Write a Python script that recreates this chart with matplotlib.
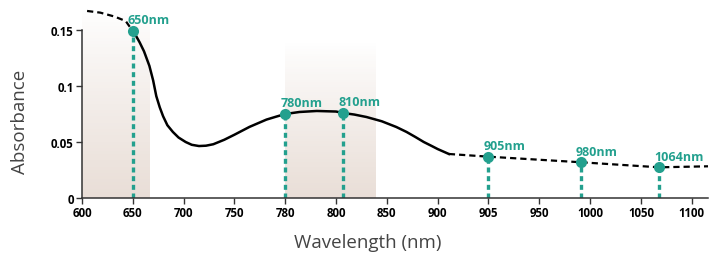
import numpy as np
import matplotlib
matplotlib.use('Agg')
import matplotlib.pyplot as plt

#----------------------------
#          DATA
#----------------------------
tick_vals = [600, 650, 700, 750, 780, 800, 850, 900, 905, 950, 1000, 1050, 1100]
tick_labels = ['600', '650', '700', '750', '780', '800', '850', '900', '905',
               '950', '1000', '1050', '1100']

# dashed head of the curve (below 650 nm)
head_x = [605, 618, 632, 643, 650]
head_y = [0.167, 0.1655, 0.162, 0.158, 0.149]

# solid part of the absorbance curve
body_x = [650, 653, 656.7, 661, 666.3, 670, 673.1, 676.5, 679.8, 684, 689.4,
          695, 702, 708, 715.1, 722, 729.2, 740, 750, 758.9, 768.9, 775, 780,
          785.6, 792.4, 800, 807, 818, 830, 845, 859.3, 869.3, 878, 886.3, 894,
          900, 901.1]
body_y = [0.149, 0.145, 0.139, 0.131, 0.118, 0.105, 0.091, 0.081, 0.073, 0.065,
          0.059, 0.054, 0.050, 0.0475, 0.0464, 0.0467, 0.048, 0.052, 0.0565,
          0.0635, 0.0700, 0.0728, 0.0750, 0.0768, 0.0777, 0.0772, 0.0759,
          0.0745, 0.0723, 0.0685, 0.0634, 0.059, 0.0545, 0.050, 0.0465,
          0.0437, 0.0393]

# dashed tail of the curve
tail_x = [901.1, 905, 991, 1068, 1116]
tail_y = [0.0393, 0.0369, 0.0319, 0.0274, 0.0283]

# laser wavelengths marked on the curve
laser_x = [650, 780, 807, 905, 991, 1068]
laser_y = [0.149, 0.075, 0.0759, 0.0369, 0.0319, 0.0274]
laser_labels = ['650nm', '780nm', '810nm', '905nm', '980nm', '1064nm']

# shaded bands (start, end, top)
band_x0 = [600, 780]
band_x1 = [667, 839]
band_top = [0.168, 0.138]

teal = '#23a08e'
band_col = '#e9ded7'

#----------------------------
#     piecewise x scale
#----------------------------
tv = np.array(tick_vals, dtype=float)
tp = np.arange(len(tv), dtype=float)

def fwd(x):
    x = np.asarray(x, dtype=float)
    y = np.interp(x, tv, tp)
    y = np.where(x < tv[0], (x - tv[0]) / 50.0, y)
    y = np.where(x > tv[-1], tp[-1] + (x - tv[-1]) / 50.0, y)
    return y

def inv(p):
    p = np.asarray(p, dtype=float)
    x = np.interp(p, tp, tv)
    x = np.where(p < tp[0], tv[0] + p * 50.0, x)
    x = np.where(p > tp[-1], tv[-1] + (p - tp[-1]) * 50.0, x)
    return x

plt.rcParams['font.family'] = ['Open Sans', 'DejaVu Sans']

fig = plt.figure(figsize=(7.2, 2.55), dpi=100)
ax = fig.add_axes([82/720, 56/255, 626/720, 196/255])
ax.set_xscale('function', functions=(fwd, inv))
ax.set_xlim(600, 1116)
ax.set_ylim(0, 0.175)

# gradient bands
n = 60
for x0, x1, top in zip(band_x0, band_x1, band_top):
    edges = np.linspace(0, top, n + 1)
    for k in range(n):
        t = k / n
        a = (1 - t) ** 0.9
        ax.fill_between([x0, x1], edges[k], edges[k+1], color=band_col,
                        alpha=a, linewidth=0, zorder=0)

# vertical dotted markers
for x, y in zip(laser_x, laser_y):
    ax.plot([x, x], [0, y], color=teal, lw=2.4, dashes=(1.5, 1.1),
            solid_capstyle='butt', dash_capstyle='butt', zorder=2)

ax.plot(head_x, head_y, color='black', lw=1.6, dashes=(2.8, 1.8),
        clip_on=False, zorder=3)
ax.plot(body_x, body_y, color='black', lw=1.8, zorder=3)
ax.plot(tail_x, tail_y, color='black', lw=1.6, dashes=(2.8, 1.8),
        clip_on=False, zorder=3)

ax.plot(laser_x, laser_y, 'o', color=teal, ms=8, mec='none', zorder=4)
for x, y, s in zip(laser_x, laser_y, laser_labels):
    ax.annotate(s, (x, y), xytext=(-3.5, 5.5), textcoords='offset points',
                ha='left', va='baseline', color=teal, fontsize=9,
                fontweight='bold', zorder=5)

ax.set_xticks(tick_vals)
ax.set_xticklabels(tick_labels)
ax.set_yticks([0, 0.05, 0.1, 0.15])
ax.set_yticklabels(['0', '0.05', '0.1', '0.15'])
ax.minorticks_off()
for lab in ax.get_xticklabels() + ax.get_yticklabels():
    lab.set_fontweight('bold')
ax.tick_params(labelsize=8.3, length=4, width=1, color='#333333', pad=2)

for s in ['top', 'right']:
    ax.spines[s].set_visible(False)
ax.spines['left'].set_bounds(0, 0.15)
for s in ['left', 'bottom']:
    ax.spines[s].set_color('#333333')
    ax.spines[s].set_linewidth(1.1)

ax.set_ylabel('Absorbance', fontsize=13.5, color='#444444')
ax.set_xlabel('Wavelength (nm)', fontsize=13.5, color='#444444')
ax.yaxis.set_label_coords(-0.0847, 0.393)
ax.xaxis.set_label_coords(0.457, -0.179)

plt.savefig('out.png', dpi=100)
